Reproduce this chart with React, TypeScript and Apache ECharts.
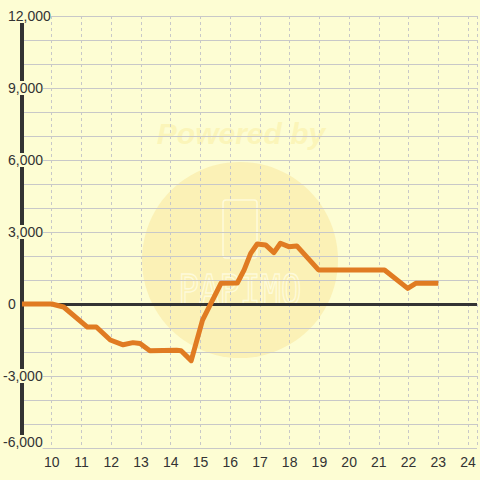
import React, { useEffect, useRef } from "react";
import * as echarts from "echarts";

const hours = [9, 10.0, 10.4, 11.2, 11.5, 11.97, 12.4, 12.73, 12.97, 13.3, 14.2, 14.35, 14.69, 15.07, 15.69, 16.24, 16.47, 16.69, 16.91, 17.19, 17.47, 17.69, 17.97, 18.24, 18.97, 21.19, 21.97, 22.24, 23.0];
const values = [0, 0, -125, -960, -960, -1500, -1700, -1610, -1650, -1950, -1930, -1950, -2360, -670, 860, 875, 1420, 2110, 2500, 2460, 2140, 2530, 2390, 2420, 1420, 1420, 650, 860, 860];
const yTicks = [-6000, -3000, 0, 3000, 6000, 9000, 12000];
const xTickLabels = [10, 11, 12, 13, 14, 15, 16, 17, 18, 19, 20, 21, 22, 23, 24];

const BG = "#fdfdd3";

export default function App() {
  const ref = useRef<HTMLDivElement>(null);
  useEffect(() => {
    if (!ref.current) return;
    const chart = echarts.init(ref.current, undefined, { renderer: "svg" });
    const fmt = (v: number) => v.toLocaleString("en-US");
    chart.setOption({
      animation: false,
      backgroundColor: BG,
      grid: { left: 21, right: 0, top: 16, bottom: 32, containLabel: false },
      graphic: [
        {
          type: "circle",
          z: -10,
          shape: { cx: 240, cy: 260, r: 98 },
          style: { fill: "#fbf1b6" },
        },
        {
          type: "text",
          z: -10,
          x: 241,
          y: 133,
          style: {
            text: "Powered by",
            fill: "rgba(250,238,160,0.5)",
            font: "italic bold 30px Liberation Sans",
            align: "center",
            verticalAlign: "middle",
          },
        },
        {
          type: "rect",
          z: -9,
          shape: { x: 223, y: 200, width: 34, height: 58, r: 3 },
          style: { fill: "none", stroke: "rgba(255,255,235,0.7)", lineWidth: 1.5 },
        },
        {
          type: "text",
          z: -9,
          x: 240,
          y: 290,
          scaleY: 1.2,
          style: {
            text: "PAPIMO",
            fill: "none",
            stroke: "rgba(255,255,235,0.7)",
            lineWidth: 1.2,
            font: "34px DejaVu Sans Mono",
            align: "center",
            verticalAlign: "middle",
          },
        },
      ],
      xAxis: {
        type: "value",
        min: 9,
        max: 24.3,
        interval: 1,
        axisLine: { show: false, onZero: false },
        axisTick: { show: false },
        axisLabel: {
          color: "#333",
          fontSize: 14,
          fontFamily: "Liberation Sans",
          margin: 7,
          formatter: (v: number) => (xTickLabels.includes(v) ? String(v) : ""),
        },
        splitLine: {
          show: true,
          lineStyle: { color: "#c8c8c8", type: [3, 3], width: 1 },
        },
      },
      yAxis: {
        type: "value",
        min: -6000,
        max: 12000,
        interval: 1000,
        axisLine: { show: true, lineStyle: { color: "#333", width: 4 } },
        axisTick: { show: false },
        axisLabel: {
          color: "#333",
          fontSize: 14,
          fontFamily: "Liberation Sans",
          align: "left",
          margin: 19,
          backgroundColor: BG,
          formatter: (v: number) => {
            if (!yTicks.includes(v)) return "";
            if (v === -6000) return "{b|" + fmt(v) + "}";
            return v < 0 ? "{n|" + fmt(v) + "}" : "{p|" + fmt(v) + "}";
          },
          rich: {
            n: { color: "#333", fontSize: 14, fontFamily: "Liberation Sans" },
            b: { color: "#333", fontSize: 14, fontFamily: "Liberation Sans", padding: [0, 0, 12, 0] },
            p: { color: "#333", fontSize: 14, fontFamily: "Liberation Sans", padding: [0, 0, 0, 5] },
          },
        },
        splitLine: { show: true, lineStyle: { color: "#c8c8c8", width: 1 } },
      },
      series: [
        {
          type: "line",
          data: hours.map((h, i) => [h, values[i]]),
          showSymbol: false,
          lineStyle: { color: "#e07b22", width: 5, join: "round" },
          itemStyle: { color: "#e07b22" },
          markLine: {
            silent: true,
            symbol: "none",
            label: { show: false },
            lineStyle: { color: "#333", width: 3, type: "solid" },
            data: [{ yAxis: 0 }],
            z: 1,
          },
        },
      ],
    });
    return () => chart.dispose();
  }, []);
  return <div ref={ref} style={{ width: 480, height: 480, position: "absolute", left: 0, top: 0 }} />;
}
